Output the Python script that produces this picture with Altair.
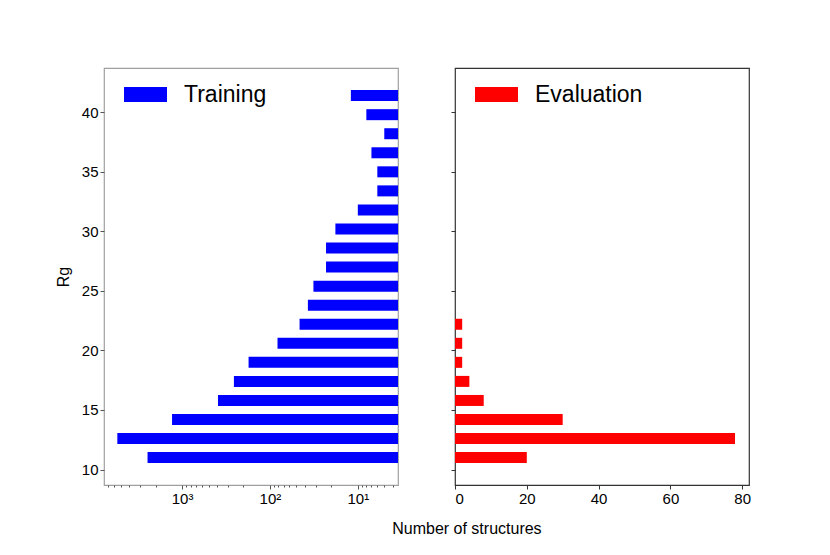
import altair as alt
import pandas as pd

# R_g bin centres and counts
rg_train = [11.0, 12.6, 14.2, 15.8, 17.4, 19.0, 20.6, 22.2, 23.8, 25.4,
            27.0, 28.6, 30.2, 31.8, 33.4, 35.0, 36.6, 38.2, 39.8, 41.4]
train_counts = [2470, 5450, 1300, 390, 257, 175, 82, 46, 37, 32,
                23, 23, 18, 10, 6, 6, 7, 5, 8, 12]
rg_eval = [11.0, 12.6, 14.2, 15.8, 17.4, 19.0, 20.6, 22.2]
eval_counts = [20, 78, 30, 8, 4, 2, 2, 2]

y_ticks = [10, 15, 20, 25, 30, 35, 40]
log_major = [10, 100, 1000]
log_minor = [4, 5, 6, 7, 8, 9, 20, 30, 40, 50, 60, 70, 80, 90,
             200, 300, 400, 500, 600, 700, 800, 900, 2000, 3000, 4000, 5000, 6000, 7000]
lin_ticks = [0, 20, 40, 60, 80]

Y_DOMAIN = [9.12, 43.3]
X_LOG_DOMAIN = [3.49, 7730]
X_LIN_DOMAIN = [0, 81.9]

FONT = "Liberation Sans"
W, H = 294, 417

train_df = pd.DataFrame({"rg": rg_train, "count": train_counts, "set": "Training"})
eval_df = pd.DataFrame({"rg": rg_eval, "count": eval_counts, "set": "Evaluation"})

rect_path = "M-1,-0.35L1,-0.35L1,0.35L-1,0.35Z"


def legend():
    return alt.Legend(title=None, orient="none", legendX=20, legendY=5,
                      symbolType=rect_path, symbolSize=1849, symbolStrokeWidth=0,
                      labelFontSize=23, labelFont=FONT, labelColor="black",
                      labelOffset=17, padding=0)


yscale = alt.Scale(domain=Y_DOMAIN, nice=False, zero=False)
xlog = alt.Scale(type="log", domain=X_LOG_DOMAIN, reverse=True, nice=False)

left_bars = alt.Chart(train_df).mark_bar(height=11, clip=True, orient="horizontal").encode(
    y=alt.Y("rg:Q", scale=yscale,
            axis=alt.Axis(values=y_ticks, title="Rg", titleFontSize=16,
                          titleFont=FONT, titleFontWeight="normal",
                          titleColor="black", titlePadding=10,
                          labelFontSize=15, labelFont=FONT, labelColor="black",
                          tickSize=4, tickColor="#555", domain=False, grid=False)),
    x=alt.X("count:Q", scale=xlog,
            axis=alt.Axis(values=log_major, title=None, grid=False, domain=False,
                          orient="bottom",
                          labelExpr="datum.value == 1000 ? '10³' : datum.value == 100 ? '10²' : '10¹'",
                          labelFontSize=15, labelFont=FONT, labelColor="black",
                          tickSize=4, tickColor="#555")),
    x2=alt.datum(X_LOG_DOMAIN[0]),
    color=alt.Color("set:N", scale=alt.Scale(domain=["Training"], range=["#0000ff"]),
                    legend=legend()),
)

left_minor = alt.Chart(train_df).mark_bar(opacity=0, height=1, clip=True,
                                          orient="horizontal").encode(
    y=alt.Y("rg:Q", scale=yscale),
    x=alt.X("count:Q", scale=xlog,
            axis=alt.Axis(values=log_minor, title=None, labels=False, grid=False,
                          orient="bottom", domain=False, tickSize=2, tickColor="#555")),
    x2=alt.datum(X_LOG_DOMAIN[0]),
)

left = alt.layer(left_bars, left_minor).resolve_axis(x="independent").properties(
    width=W, height=H, view=alt.ViewBackground(stroke="#a0a0a0", strokeWidth=1.2))

right = alt.Chart(eval_df).mark_bar(height=11, orient="horizontal").encode(
    y=alt.Y("rg:Q", scale=yscale,
            axis=alt.Axis(values=y_ticks, title=None, labels=False, tickSize=4,
                          tickColor="#333", domain=False, grid=False)),
    x=alt.X("count:Q", scale=alt.Scale(domain=X_LIN_DOMAIN, nice=False),
            axis=alt.Axis(values=lin_ticks, title=None, grid=False, domain=False,
                          labelFontSize=15, labelFont=FONT, labelColor="black",
                          tickSize=4, tickColor="#333")),
    x2=alt.datum(0),
    color=alt.Color("set:N", scale=alt.Scale(domain=["Evaluation"], range=["#ff0000"]),
                    legend=legend()),
).properties(width=W, height=H,
             view=alt.ViewBackground(stroke="#333333", strokeWidth=1.2))

chart = alt.hconcat(left, right, spacing=50).resolve_scale(
    color="independent").resolve_legend(color="independent").properties(
    title=alt.TitleParams("Number of structures", orient="bottom", anchor="middle",
                          font=FONT, fontSize=16, fontWeight="normal",
                          color="black", dx=64, offset=14),
    padding={"left": 46, "top": 59, "right": 10, "bottom": 10},
).configure_view(strokeWidth=1.2)

chart.save("out.html", embed_options={"renderer": "svg", "actions": False})
